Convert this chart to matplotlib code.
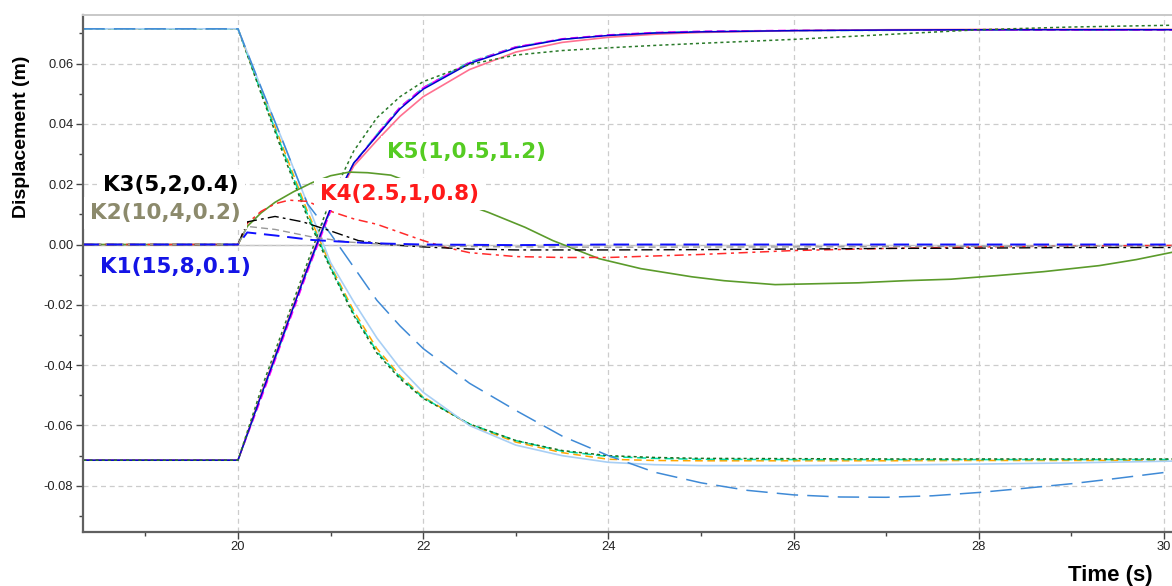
import matplotlib
matplotlib.use("Agg")
import matplotlib.pyplot as plt
from matplotlib.ticker import MultipleLocator, FormatStrFormatter

plt.rcParams['font.family'] = ['Liberation Sans', 'DejaVu Sans']
plt.rcParams['axes.unicode_minus'] = False

# falling group: starts at +0.0715, ends near -0.0715
t_fall = [18.33, 20.0, 20.25, 20.5, 20.75, 21.0, 21.25, 21.5, 21.75, 22.0, 22.5, 23.0, 23.5,
          24.0, 24.5, 25.0, 26.0, 27.0, 28.0, 29.0, 30.1]
fall_lightblue = [0.0715, 0.0715, 0.052, 0.033, 0.0135, -0.006, -0.019, -0.031, -0.041, -0.049,
                  -0.060, -0.0665, -0.070, -0.0722, -0.0730, -0.0733, -0.0733, -0.0731, -0.0728,
                  -0.0724, -0.0718]
fall_green = [0.0715, 0.0715, 0.050, 0.029, 0.009, -0.008, -0.0235, -0.036, -0.0445, -0.051,
              -0.0595, -0.065, -0.0683, -0.0700, -0.0706, -0.0709, -0.0710, -0.0711, -0.0711,
              -0.0711, -0.0711]
fall_orange = [0.0715, 0.0715, 0.051, 0.031, 0.011, -0.007, -0.022, -0.0345, -0.0435, -0.0505,
               -0.0598, -0.0655, -0.069, -0.0712, -0.0716, -0.0717, -0.0717, -0.0717, -0.0716,
               -0.0716, -0.0716]
fall_cyan = [0.0715, 0.0715, 0.0505, 0.030, 0.010, -0.0075, -0.023, -0.0355, -0.044, -0.0508,
             -0.0595, -0.065, -0.0685, -0.0703, -0.0709, -0.0712, -0.0713, -0.0713, -0.0713,
             -0.0713, -0.0713]

t_fall2 = [18.33, 20.0, 20.25, 20.5, 20.75, 21.0, 21.25, 21.5, 21.75, 22.0, 22.5, 23.0, 23.5,
           24.0, 24.5, 25.0, 25.5, 26.0, 26.5, 27.0, 27.5, 28.0, 28.5, 29.0, 29.5, 30.1]
fall_bluedash = [0.0715, 0.0715, 0.052, 0.033, 0.0135, 0.0035, -0.0075, -0.0185, -0.027,
                 -0.0345, -0.046, -0.055, -0.0635, -0.070, -0.0755, -0.079, -0.0815, -0.083,
                 -0.0837, -0.0838, -0.0833, -0.0822, -0.0808, -0.0793, -0.0775, -0.0752]

# rising group: starts at -0.0715, ends near +0.0712
t_rise = [18.33, 20.0, 20.25, 20.5, 20.75, 21.0, 21.25, 21.5, 21.75, 22.0, 22.5, 23.0, 23.5,
          24.0, 24.5, 25.0, 26.0, 27.0, 28.0, 29.0, 30.1]
rise_blue = [-0.0715, -0.0715, -0.050, -0.029, -0.008, 0.012, 0.027, 0.036, 0.045, 0.0515,
             0.060, 0.0652, 0.068, 0.0693, 0.0701, 0.0705, 0.0709, 0.0711, 0.0712, 0.0712, 0.0712]
rise_pink = [-0.0715, -0.0715, -0.0495, -0.0285, -0.0075, 0.012, 0.026, 0.0345, 0.0425, 0.049,
             0.058, 0.0638, 0.067, 0.0687, 0.0697, 0.0703, 0.0709, 0.0712, 0.0713, 0.0713, 0.0713]
rise_magenta = [-0.0715, -0.0715, -0.051, -0.030, -0.009, 0.011, 0.0265, 0.0365, 0.0455, 0.052,
                0.0603, 0.0655, 0.0682, 0.0695, 0.0703, 0.0707, 0.071, 0.0711, 0.0711, 0.0711,
                0.0711]
rise_cyan = [-0.0715, -0.0715, -0.0505, -0.0295, -0.0085, 0.0115, 0.027, 0.0365, 0.0455, 0.052,
             0.0605, 0.0655, 0.068, 0.0694, 0.0702, 0.0706, 0.0709, 0.071, 0.0711, 0.0711, 0.0711]
rise_green = [-0.0715, -0.0715, -0.048, -0.027, -0.006, 0.015, 0.031, 0.042, 0.049, 0.054,
              0.0597, 0.0628, 0.0643, 0.0652, 0.066, 0.0667, 0.068, 0.0696, 0.0712, 0.0721,
              0.0727]

# K-gain cases near zero
t_k1 = [18.33, 20.0, 20.1, 20.4, 20.8, 21.2, 21.6, 22.0, 23.0, 24.0, 26.0, 28.0, 30.1]
k1 = [0.0, 0.0, 0.004, 0.003, 0.0015, 0.0008, 0.0003, 0.0, -0.0002, 0.0, 0.0, 0.0, 0.0]
t_k2 = [18.33, 20.0, 20.1, 20.4, 20.8, 21.2, 21.6, 22.0, 23.0, 24.0, 26.0, 28.0, 30.1]
k2 = [0.0, 0.0, 0.006, 0.005, 0.0025, 0.0008, 0.0, -0.0005, -0.0008, -0.0009, -0.0008,
      -0.0006, -0.0005]
t_k3 = [18.33, 20.0, 20.1, 20.4, 20.7, 21.0, 21.3, 21.6, 22.0, 22.5, 23.0, 24.0, 25.0, 26.0,
        27.0, 28.0, 29.0, 30.1]
k3 = [0.0, 0.0, 0.0075, 0.0093, 0.0075, 0.0045, 0.0013, 0.0, -0.0008, -0.0015, -0.0018,
      -0.0018, -0.0017, -0.0015, -0.0013, -0.0012, -0.001, -0.001]
t_k4 = [18.33, 20.0, 20.1, 20.25, 20.4, 20.55, 20.75, 21.0, 21.25, 21.5, 21.75, 22.0, 22.25,
        22.5, 23.0, 23.5, 24.0, 24.5, 25.0, 26.0, 27.0, 28.0, 29.0, 30.1]
k4 = [0.0, 0.0, 0.007, 0.011, 0.0135, 0.0147, 0.0143, 0.011, 0.0085, 0.0067, 0.004, 0.0013,
      -0.001, -0.0027, -0.004, -0.0043, -0.0043, -0.0038, -0.0033, -0.002, -0.0013, -0.0008,
      -0.0005, -0.0003]
t_k5 = [18.33, 20.0, 20.1, 20.25, 20.4, 20.6, 20.8, 21.0, 21.2, 21.4, 21.65, 22.0, 22.35, 22.7,
        23.1, 23.4, 23.9, 24.35, 24.9, 25.25, 25.8, 26.25, 26.7, 27.2, 27.7, 28.2, 28.7, 29.3,
        29.7, 30.1]
k5 = [0.0, 0.0, 0.006, 0.0105, 0.014, 0.0175, 0.0205, 0.0228, 0.024, 0.0238, 0.023, 0.019,
      0.0145, 0.0107, 0.0057, 0.0013, -0.0047, -0.008, -0.0107, -0.012, -0.0133, -0.013,
      -0.0127, -0.012, -0.0115, -0.0103, -0.009, -0.007, -0.005, -0.0025]

labels = ["K3(5,2,0.4)", "K2(10,4,0.2)", "K1(15,8,0.1)", "K4(2.5,1,0.8)", "K5(1,0.5,1.2)"]
label_colors = ["#000000", "#8c8a6c", "#1414e6", "#ff1a1a", "#55cc22"]

fig = plt.figure(figsize=(11.72, 5.86), dpi=100)
ax = fig.add_axes([0.0708, 0.0927, 0.9292, 0.8823])

ax.axhline(0, color="#bdbdbd", lw=1.0, zorder=1)

# falling curves
ax.plot(t_fall, fall_orange, color="#ffa500", lw=1.1, dashes=(5, 3))
ax.plot(t_fall, fall_cyan, color="#00e0a8", lw=1.1, dashes=(6, 3))
ax.plot(t_fall, fall_green, color="#1e6e1e", lw=1.1, dashes=(2, 2))
ax.plot(t_fall, fall_lightblue, color="#a8cff5", lw=1.2)
ax.plot(t_fall2, fall_bluedash, color="#3f8ad6", lw=1.1, dashes=(14, 6))

# rising curves
ax.plot(t_rise, rise_cyan, color="#20c0c0", lw=1.1, dashes=(6, 3))
ax.plot(t_rise, rise_magenta, color="#ff00ff", lw=1.1, dashes=(5, 3))
ax.plot(t_rise, rise_pink, color="#ff7090", lw=1.2)
ax.plot(t_rise, rise_blue, color="#0000d0", lw=1.1)
ax.plot(t_rise, rise_green, color="#2a7a2a", lw=1.1, dashes=(2, 2))

# K cases
ax.plot(t_k5, k5, color="#5b9b2b", lw=1.2)
ax.plot(t_k4, k4, color="#ff2a2a", lw=1.1, dashes=(6, 3, 2, 3))
ax.plot(t_k3, k3, color="#000000", lw=1.0, dashes=(8, 3, 2, 3))
ax.plot(t_k2, k2, color="#999999", lw=1.0, dashes=(5, 3))
ax.plot(t_k1, k1, color="#1010ff", lw=1.4, dashes=(8, 4))

ax.set_xlim(18.326, 30.086)
ax.set_ylim(-0.0952, 0.0762)
ax.xaxis.set_major_locator(MultipleLocator(2))
ax.xaxis.set_minor_locator(MultipleLocator(1))
ax.yaxis.set_major_locator(MultipleLocator(0.02))
ax.yaxis.set_minor_locator(MultipleLocator(0.01))
ax.yaxis.set_major_formatter(FormatStrFormatter("%.2f"))
ax.grid(True, which="major", color="#cccccc", lw=0.9, ls=(0, (4, 3)), zorder=0)
ax.tick_params(which="major", direction="out", length=5, width=1, color="#444444",
               labelsize=9.3, labelcolor="#222222", pad=2)
ax.tick_params(which="minor", direction="out", length=3, width=1, color="#444444")

for side in ["left", "bottom"]:
    ax.spines[side].set_color("#606060")
    ax.spines[side].set_linewidth(1.6)
ax.spines["top"].set_color("#c8c8c8")
ax.spines["top"].set_linewidth(1.4)
ax.spines["right"].set_visible(False)

fig.text(22 / 1172, 1 - 137 / 586, "Displacement (m)", rotation=90, ha="center", va="center",
         fontsize=14, fontweight="bold")
fig.text(1110 / 1172, 1 - 576 / 586, "Time (s)", ha="center", va="center",
         fontsize=16, fontweight="bold")

label_pos = [(103, 185), (90, 213), (100, 267), (320, 194), (387, 152)]
for txt, col, (px, py) in zip(labels, label_colors, label_pos):
    fig.text(px / 1172, 1 - py / 586, txt, ha="left", va="center", color=col,
             fontsize=15.5, fontweight="bold", family="DejaVu Sans",
             bbox=dict(boxstyle="square,pad=0.3", fc="white", ec="none"))

fig.savefig("out.png", dpi=100)
